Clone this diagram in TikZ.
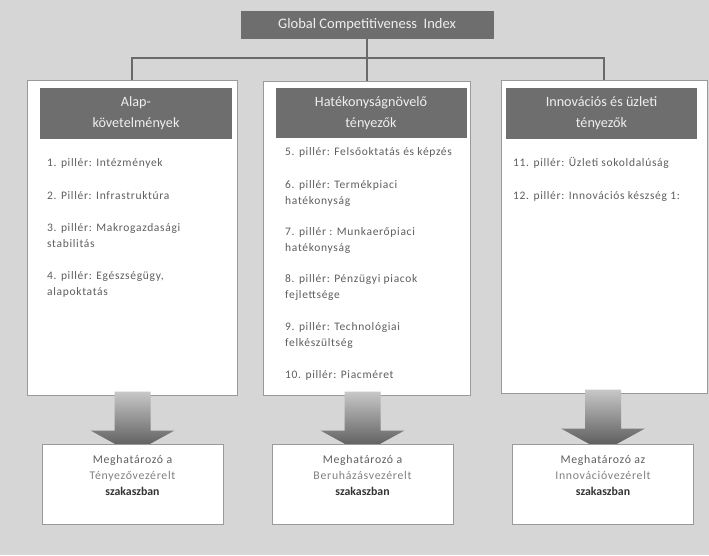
\documentclass[tikz,border=0pt]{standalone}
\usepackage{fontspec}
\setmainfont{Carlito}
\newfontfamily\spacedfont[LetterSpace=6]{Carlito}
\usepackage{tikz}
\usetikzlibrary{calc}

\definecolor{bggray}{HTML}{D6D6D6}
\definecolor{framegray}{HTML}{9A9A9A}
\definecolor{hdgray}{HTML}{6E6E6E}
\definecolor{hdtext}{HTML}{EFEFEF}
\definecolor{txtgray}{HTML}{5E5E5E}
\definecolor{linegray}{HTML}{6A6A6A}
\definecolor{arrowtop}{HTML}{C8C8C8}
\definecolor{arrowbot}{HTML}{505050}

\begin{document}
\begin{tikzpicture}[x=1pt, y=-1pt,
    colbox/.style={rectangle, draw=framegray, fill=white, line width=1pt, inner sep=0pt},
    hdbox/.style={rectangle, fill=hdgray, text=hdtext, inner sep=0pt, align=center, font=\fontsize{14.2}{21}\selectfont},
    pillar/.style={anchor=base west, inner sep=0pt, align=left, text=txtgray, font=\spacedfont\fontsize{11.5}{16}\selectfont},
    resbox/.style={rectangle, draw=framegray, fill=white, line width=1pt, inner sep=0pt, minimum width=181pt, minimum height=80pt},
    restext/.style={inner sep=0pt, align=center, text=txtgray, font=\spacedfont\fontsize{11.8}{16}\selectfont}]
    % Background
    \fill [bggray] (0,0) rectangle (709,555);
    % Place nodes
    \node [rectangle, fill=hdgray, text=hdtext, minimum width=253pt, minimum height=28pt, inner sep=0pt, font=\fontsize{14.5}{16}\selectfont] (gci) at (367,25) {Global Competitiveness\ \ Index};
    \coordinate (bus) at (367,58);
    \node [colbox, minimum width=210pt, minimum height=315pt] (col1) at (132,237.5) {};
    \node [colbox, minimum width=207pt, minimum height=314pt] (col2) at (367,238) {};
    \node [colbox, minimum width=206pt, minimum height=313pt] (col3) at (604,236.5) {};
    \node [hdbox, minimum width=192pt, minimum height=51pt] (hd1) at (136,113.5) {Alap-\\követelmények};
    \node [hdbox, minimum width=191pt, minimum height=50pt] (hd2) at (371,113) {Hatékonyságnövelő\\tényezők};
    \node [hdbox, minimum width=191pt, minimum height=51pt] (hd3) at (601.5,113.5) {Innovációs és üzleti\\tényezők};
    % Pillars (base = last line)
    \node [pillar] (p1) at (47,166) {1. pillér: Intézmények};
    \node [pillar] (p2) at (47,199) {2. Pillér: Infrastruktúra};
    \node [pillar] (p3) at (47,247) {3. pillér: Makrogazdasági\\stabilitás};
    \node [pillar] (p4) at (47,295) {4. pillér: Egészségügy,\\alapoktatás};
    \node [pillar] (p5) at (285,155) {5. pillér: Felsőoktatás és képzés};
    \node [pillar] (p6) at (285,204) {6. pillér: Termékpiaci\\hatékonyság};
    \node [pillar] (p7) at (285,251) {7. pillér : Munkaerőpiaci\\hatékonyság};
    \node [pillar] (p8) at (285,298) {8. pillér: Pénzügyi piacok\\fejlettsége};
    \node [pillar] (p9) at (285,346) {9. pillér: Technológiai\\felkészültség};
    \node [pillar] (p10) at (285,378) {10. pillér: Piacméret};
    \node [pillar] (p11) at (513,166) {11. pillér: Üzleti sokoldalúság};
    \node [pillar] (p12) at (513,199) {12. pillér: Innovációs készség 1:};
    % Connectors
    \path [draw, linegray, line width=1.5pt] (gci.south) -- (bus);
    \path [draw, linegray, line width=1.5pt] (bus) -| (col1.north);
    \path [draw, linegray, line width=1.5pt] (bus) -- (col2.north);
    \path [draw, linegray, line width=1.5pt] (bus) -| (col3.north);
    % Stage boxes
    \coordinate (r1) at (132.5,484);
    \coordinate (r2) at (362.5,484);
    \coordinate (r3) at (603,484);
    \foreach \i in {1,2,3} {
        \shade [top color=arrowtop, bottom color=arrowbot]
            ($(r\i |- col\i.south)+(-18,-4)$) -- ++(36,0) -- ++(0,39) -- ++(24,0)
            -- ++(-42,23) -- ++(-42,-23) -- ++(24,0) -- cycle;
        \node [resbox] (res\i) at (r\i) {};
    }
    \node [restext] (rt1) at ($(res1.center)+(0,-9)$) {Meghatározó a\\{\color{gray}Tényezővezérelt}\\\textcolor{black!80}{\normalfont\bfseries szakaszban}};
    \node [restext] (rt2) at ($(res2.center)+(0,-9)$) {Meghatározó a\\{\color{gray}Beruházásvezérelt}\\\textcolor{black!80}{\normalfont\bfseries szakaszban}};
    \node [restext] (rt3) at ($(res3.center)+(0,-9)$) {Meghatározó az\\{\color{gray}Innovációvezérelt}\\\textcolor{black!80}{\normalfont\bfseries szakaszban}};
\end{tikzpicture}
\end{document}
